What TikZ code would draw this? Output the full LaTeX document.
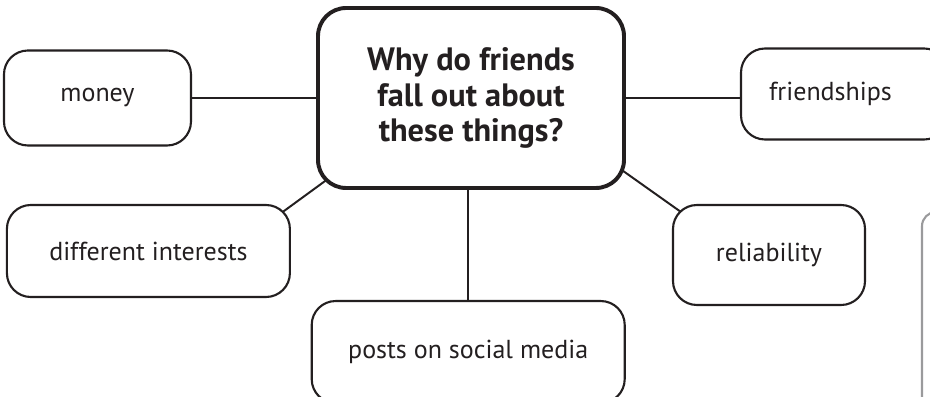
\documentclass[tikz,border=0pt]{standalone}
\usepackage{fontspec}
\setmainfont{PT Sans}
\definecolor{InkBlack}{HTML}{231F20}
\definecolor{EdgeGray}{HTML}{9A9A9C}
\usepackage{tikz}
\usetikzlibrary{positioning, backgrounds, calc}

\begin{document}
\begin{tikzpicture}[
  topic/.style={draw=InkBlack, line width=1.5pt, rounded corners=17pt,
    fill=white, align=center, text=InkBlack,
    font=\fontsize{18.5}{22}\selectfont},
  question/.style={draw=InkBlack, line width=2.8pt, rounded corners=20pt,
    fill=white, align=center, text=InkBlack,
    minimum width=7.65cm, minimum height=4.5cm,
    font=\bfseries\fontsize{23}{25}\selectfont},
  link/.style={draw=InkBlack, line width=1.4pt},
]
  \useasboundingbox (0,0) rectangle (23.25,9.9);
  \clip (0,0) rectangle (23.25,9.9);

  \node[question] (q) at (11.775, 7.45) {Why do friends\\fall out about\\these things?};

  \node[topic, minimum width=4.675cm, minimum height=2.375cm,
    left=3.1cm of q] (money) {money};
  \node[topic, minimum width=5.175cm, minimum height=2.275cm,
    right=2.85cm of q, yshift=0.1cm] (fr) {friendships\hspace*{0.7cm}};
  \node[topic, minimum width=7.075cm, minimum height=2.3cm] (di) at (3.71, 3.625) {different interests};
  \node[topic, minimum width=4.8cm, minimum height=2.5cm] (rel) at (19.225, 3.525) {reliability};
  \node[topic, minimum width=7.825cm, minimum height=2.55cm,
    below=2.75cm of q, xshift=-0.07cm] (po) {posts on social media};

  % partly shown box at the right edge
  \draw[EdgeGray, line width=1.5pt, rounded corners=10pt] (23.05,-1) rectangle (26,4.6);

  \begin{scope}[on background layer]
    \draw[link] (money.east) -- (q.west);
    \draw[link] (q.east) -- (q.east -| fr.west);
    \draw[link] ($(q.south west)+(0.55,0.46)$) -- ($(di.north east)+(-0.5,-0.415)$);
    \draw[link] ($(q.south east)+(-0.6,0.85)$) -- ($(rel.north west)+(0.675,-0.52)$);
    \draw[link] (po.north |- q.south) -- (po.north);
  \end{scope}
\end{tikzpicture}
\end{document}
